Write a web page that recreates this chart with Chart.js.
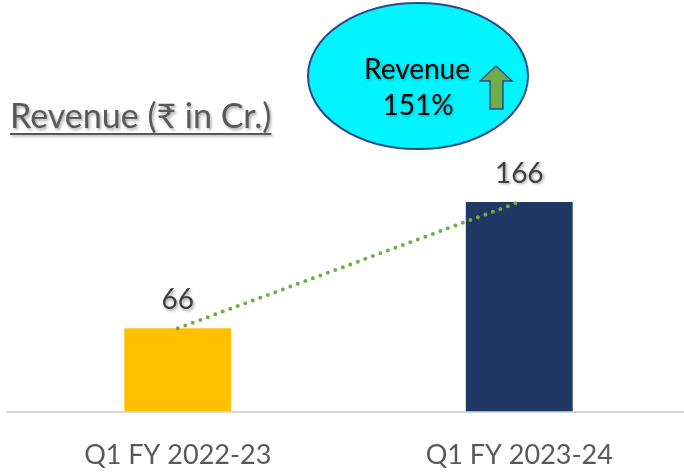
<!DOCTYPE html>
<html>
<head>
<meta charset="utf-8">
<script src="https://cdn.jsdelivr.net/npm/chart.js@4"></script>
<style>
  html, body { margin: 0; padding: 0; background: #fff; overflow: hidden; }
  #box { position: relative; width: 690px; height: 490px; }
</style>
</head>
<body>
<div id="box"><canvas id="spaceForGraphic"></canvas></div>
<script>
const categories = ["Q1 FY 2022-23", "Q1 FY 2023-24"];
const revenue = [66, 166];
const barColors = ["#FFC000", "#1F3864"];
const growthText = ["Revenue", "151%"];
const titleText = "Revenue (₹ in Cr.)";

const FONT = "Lato, 'Noto Sans', 'DejaVu Sans', sans-serif";

// etiquetas de valor sobre cada barra + titulo + globo
const extras = {
  id: "extras",
  afterDatasetsDraw(chart) {
    const ctx = chart.ctx;
    const meta = chart.getDatasetMeta(0);

    ctx.save();
    ctx.shadowColor = "rgba(0,0,0,0.35)";
    ctx.shadowBlur = 3;
    ctx.shadowOffsetX = 1.5;
    ctx.shadowOffsetY = 1.5;
    ctx.fillStyle = "#404040";
    ctx.font = "28px " + FONT;
    ctx.textAlign = "center";
    ctx.textBaseline = "alphabetic";
    meta.data.forEach((bar, i) => {
      ctx.fillText(revenue[i], bar.x, bar.y - 19);
    });

    // titulo subrayado
    ctx.fillStyle = "#595959";
    ctx.font = "34px " + FONT;
    ctx.textAlign = "left";
    ctx.fillText(titleText, 10, 128);
    const w = ctx.measureText(titleText).width;
    ctx.fillRect(10, 133, w, 2);
    ctx.restore();

    // globo de crecimiento
    ctx.save();
    ctx.beginPath();
    ctx.ellipse(418, 76, 110, 73, 0, 0, Math.PI * 2);
    ctx.fillStyle = "#00F5FF";
    ctx.fill();
    ctx.lineWidth = 2;
    ctx.strokeStyle = "#2F4A8A";
    ctx.stroke();

    ctx.shadowColor = "rgba(0,0,0,0.3)";
    ctx.shadowBlur = 3;
    ctx.shadowOffsetX = 1;
    ctx.shadowOffsetY = 1;
    ctx.fillStyle = "#000";
    ctx.font = "28px " + FONT;
    ctx.textAlign = "center";
    ctx.fillText(growthText[0], 417, 79);
    ctx.fillText(growthText[1], 418, 115);
    ctx.shadowColor = "transparent";

    // flecha
    ctx.beginPath();
    ctx.moveTo(496, 66);
    ctx.lineTo(512, 81);
    ctx.lineTo(503, 81);
    ctx.lineTo(503, 109);
    ctx.lineTo(490, 109);
    ctx.lineTo(490, 81);
    ctx.lineTo(480, 81);
    ctx.closePath();
    ctx.fillStyle = "#70AD47";
    ctx.fill();
    ctx.lineWidth = 1.5;
    ctx.strokeStyle = "#2F4A8A";
    ctx.stroke();
    ctx.restore();
  },
};

new Chart(document.getElementById("spaceForGraphic"), {
  type: "bar",
  data: {
    labels: categories,
    datasets: [
      {
        type: "bar",
        data: revenue,
        backgroundColor: barColors,
        barPercentage: 0.313,
        categoryPercentage: 1,
        order: 2,
      },
      {
        type: "line",
        data: revenue,
        borderColor: "#70AD47",
        borderWidth: 4,
        borderDash: [0, 8],
        borderCapStyle: "round",
        pointRadius: 0,
        fill: false,
        order: 1,
      },
    ],
  },
  options: {
    responsive: true,
    maintainAspectRatio: false,
    animation: false,
    layout: { padding: { top: 159, left: 7, right: 0, bottom: 0 } },
    plugins: { legend: { display: false }, tooltip: { enabled: false } },
    scales: {
      x: {
        grid: { display: false },
        border: { color: "#D9D9D9", width: 2 },
        ticks: { color: "#595959", font: { family: FONT, size: 27 }, padding: 19 },
      },
      y: { display: false, min: 0, max: 200 },
    },
  },
  plugins: [extras],
});
</script>
</body>
</html>
